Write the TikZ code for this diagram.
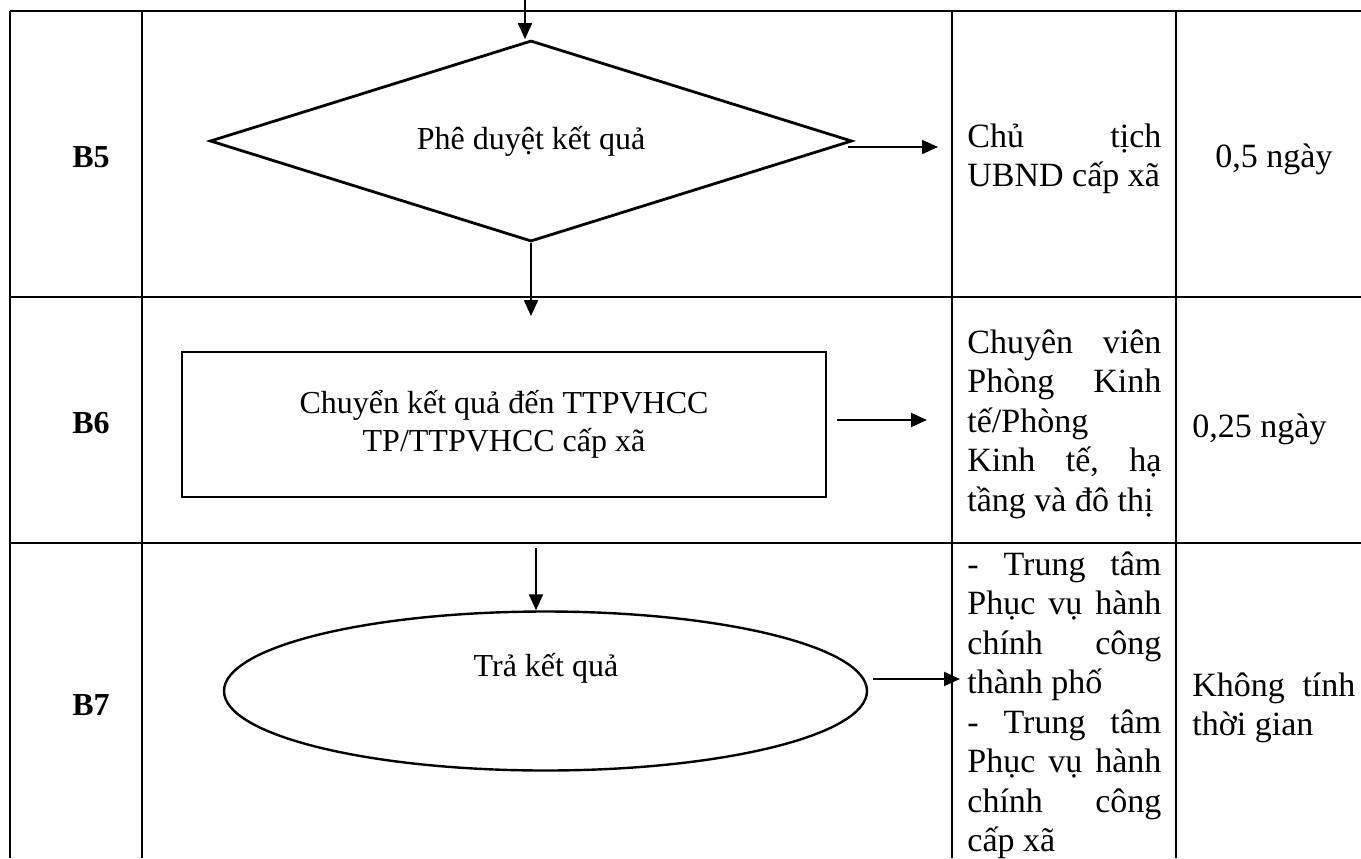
\documentclass[tikz,border=0pt]{standalone}
\usepackage{fontspec}
\setmainfont{Liberation Serif}
\usetikzlibrary{shapes.geometric,arrows.meta,calc}
\newcommand{\jl}[1]{\hbox to 97pt{#1}}
\newcommand{\jk}[1]{\hbox to 81.5pt{#1}}
\newcommand{\tstrut}{\rule{0pt}{16pt}}
\begin{document}
\begin{tikzpicture}[x=0.5pt,y=-0.5pt,
  tbl/.style={line width=1.3pt},
  arr/.style={line width=1pt,-{Triangle[length=8pt,width=7pt]}},
  cell/.style={font=\fontsize{17}{19.75}\selectfont, anchor=north west, inner sep=0pt, align=left},
  stepnum/.style={font=\fontsize{16}{19}\selectfont\bfseries, inner sep=0pt, anchor=base},
  fc/.style={font=\fontsize{16}{19}\selectfont, draw, line width=1.4pt, inner sep=0pt},
  fctext/.style={font=\fontsize{16}{19}\selectfont, inner sep=0pt, anchor=base}
]
\useasboundingbox (0,0) rectangle (1361,858);
\fill[white] (0,0) rectangle (1361,858);

% table grid
\draw[tbl] (10,11) -- (1361,11);
\draw[tbl] (10,297) -- (1361,297);
\draw[tbl] (10,543) -- (1361,543);
\foreach \x in {10,142,952,1176} \draw[tbl] (\x,11) -- (\x,858);

% step labels
\node[stepnum] (b5) at (91,167) {B5};
\node[stepnum] (b6) at (91,433) {B6};
\node[stepnum] (b7) at (91,715) {B7};

% flowchart shapes
\node[fc, diamond, aspect=3.2, minimum width=321pt, minimum height=100.5pt] (d) at (531,141) {Phê duyệt kết quả};
\node[fc, rectangle, minimum width=322pt, minimum height=72.5pt, align=center] (r) at (504,424.5) {Chuyển kết quả đến TTPVHCC\\TP/TTPVHCC cấp xã};
\node[draw, ellipse, line width=1.2pt, minimum width=321.5pt, minimum height=79.5pt, inner sep=0pt] (e) at (545.5,691) {};
\node[fctext] (et) at (546,676) {Trả kết quả};

% connectors
\coordinate (in5) at (525,0);
\draw[arr] (in5) -- (in5 |- d.north);
\coordinate (a5) at (938,147);
\draw[arr] ($(d.east |- a5)+(-5,0)$) -- (a5);
\coordinate (a56) at (531,316);
\draw[arr] (d.south) -- (a56);
\coordinate (a6) at (927,420);
\draw[arr] ($(r.east |- a6)+(10,0)$) -- (a6);
\coordinate (s7) at (536,548);
\draw[arr] (s7) -- (s7 |- e.north);
\coordinate (a7) at (960,679);
\draw[arr] ($(e.east |- a7)+(5,0)$) -- (a7);

% responsible column
\node[cell] (c5) at (967,115) {\tstrut\jl{Chủ\hfill tịch}\\UBND cấp xã};
\node[cell] (c6) at (967,321) {\tstrut\jl{Chuyên\hfill viên}\\\jl{Phòng\hfill Kinh}\\tế/Phòng\\\jl{Kinh\hfill tế,\hfill hạ}\\tầng và đô thị};
\node[cell] (c7) at (967,543) {\tstrut\jl{-\hfill Trung\hfill tâm}\\\jl{Phục\hfill vụ\hfill hành}\\\jl{chính\hfill công}\\thành phố\\\jl{-\hfill Trung\hfill tâm}\\\jl{Phục\hfill vụ\hfill hành}\\\jl{chính\hfill công}\\cấp xã};

% time column
\node[cell, anchor=base west] (t5) at (1215,167) {0,5 ngày};
\node[cell, anchor=base west] (t6) at (1192,437) {0,25 ngày};
\node[cell] (t7) at (1192,664) {\tstrut\jk{Không\hfill tính}\\thời gian};
\end{tikzpicture}
\end{document}
